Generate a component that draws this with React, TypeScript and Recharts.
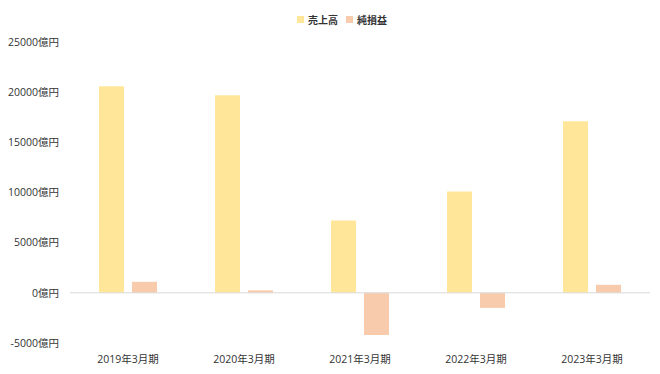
import { BarChart, Bar, XAxis, YAxis, ReferenceLine } from 'recharts';

const categories = ['2019年3月期', '2020年3月期', '2021年3月期', '2022年3月期', '2023年3月期'];
const sales = [20600, 19700, 7200, 10100, 17100];
const netIncome = [1100, 250, -4200, -1500, 800];
const yTicks = [-5000, 0, 5000, 10000, 15000, 20000, 25000];

const SALES_COLOR = '#FFE699';
const NET_COLOR = '#F8CBAD';
const FONT = '"Open Sans", "Noto Sans CJK JP", sans-serif';

const chartData = categories.map((name, i) => ({
  name,
  売上高: sales[i],
  純損益: netIncome[i],
}));

const LegendBox = () => (
  <div
    style={{
      position: 'absolute',
      top: 12,
      left: 12,
      width: 660,
      display: 'flex',
      justifyContent: 'center',
      gap: 8,
      fontSize: 10,
      fontWeight: 700,
      color: '#333',
      fontFamily: FONT,
    }}
  >
    {[
      { label: '売上高', color: SALES_COLOR },
      { label: '純損益', color: NET_COLOR },
    ].map((item) => (
      <span key={item.label} style={{ display: 'flex', alignItems: 'center' }}>
        <span style={{ width: 7, height: 7, background: item.color, marginRight: 4, display: 'inline-block' }} />
        {item.label}
      </span>
    ))}
  </div>
);

export default function App() {
  return (
    <div style={{ position: 'absolute', left: 0, top: 0, width: 660, height: 374, background: '#fff', overflow: 'hidden' }}>
      <BarChart
        width={660}
        height={374}
        data={chartData}
        margin={{ top: 42, right: 10, left: 0, bottom: 0 }}
        barSize={25}
        barGap={8}
      >
        <XAxis
          dataKey="name"
          axisLine={false}
          tickLine={false}
          height={31}
          tickMargin={7}
          tick={{ fill: '#333', fontSize: 10.5, fontFamily: FONT }}
        />
        <YAxis
          width={70}
          domain={[-5000, 25000]}
          ticks={yTicks}
          interval={0}
          axisLine={false}
          tickLine={false}
          tickMargin={5}
          tickFormatter={(v: number) => `${v}億円`}
          tick={{ fill: '#333', fontSize: 10.5, fontFamily: FONT }}
        />
        <ReferenceLine y={0} stroke="#D9D9D9" />
        <Bar dataKey="売上高" fill={SALES_COLOR} isAnimationActive={false} />
        <Bar dataKey="純損益" fill={NET_COLOR} isAnimationActive={false} />
      </BarChart>
      <LegendBox />
    </div>
  );
}
